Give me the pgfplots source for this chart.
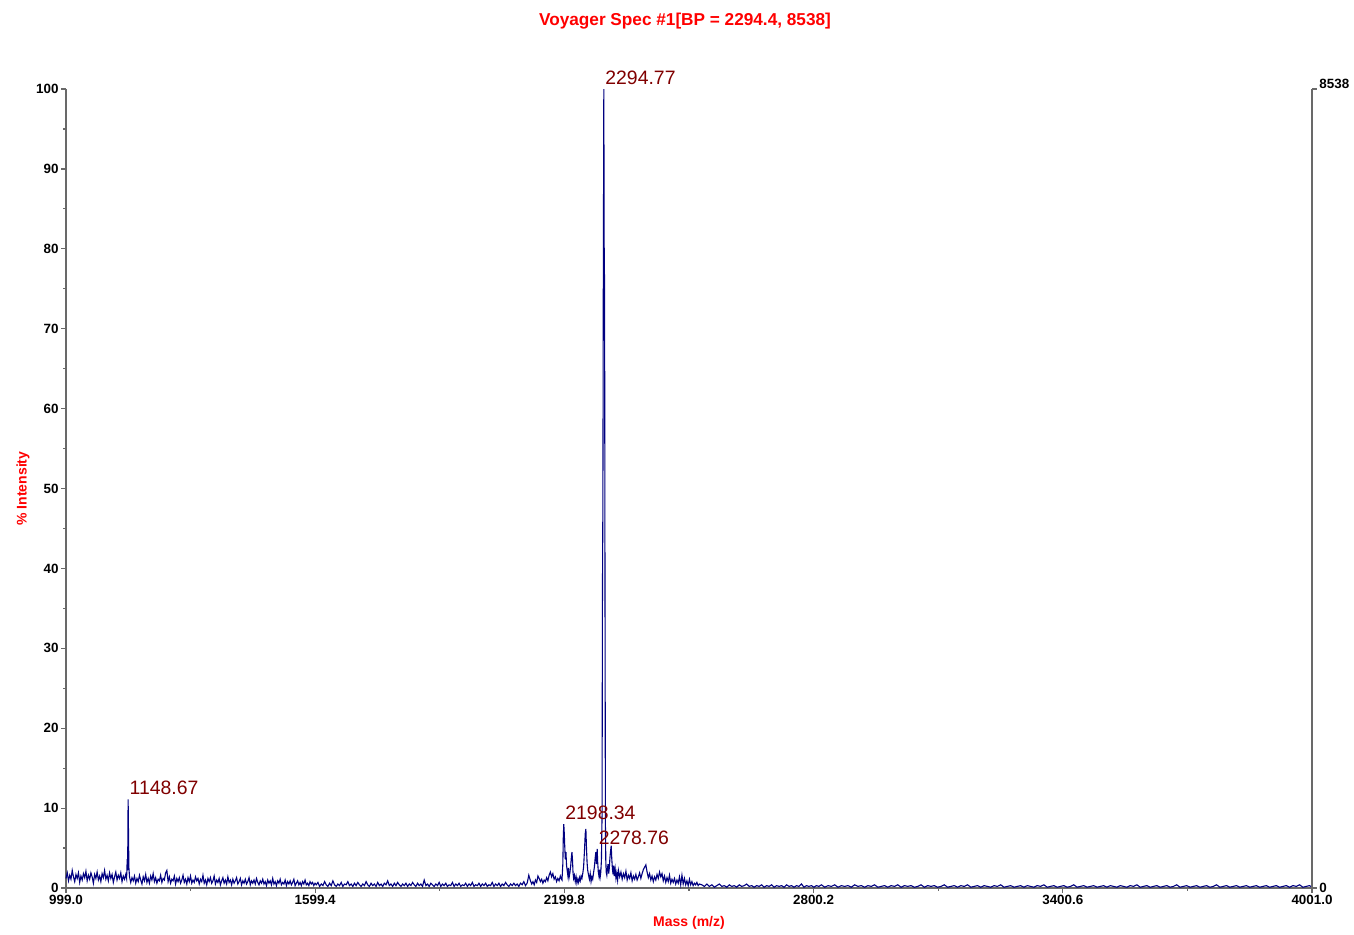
\documentclass[border=0pt]{standalone}
\usepackage{fontspec}
\setmainfont{Liberation Sans}
\usepackage{pgfplots}
\usepackage{pgfplotstable}
\pgfplotsset{compat=1.18}
\definecolor{navy}{RGB}{0,0,128}
\definecolor{peakred}{RGB}{128,0,0}
\definecolor{titlered}{RGB}{255,0,0}
\definecolor{axgray}{RGB}{105,105,105}

\pgfplotstableread[row sep=\\]{
x y\\
999 1.2\\ 1002 1.9\\ 1005 0.9\\ 1008 1.6\\ 1011 1.1\\ 1014 2.2\\ 1017 1.4\\ 1020 0.8\\ 1023 1.7\\ 1026 1.2\\
1029 1.9\\ 1032 0.7\\ 1035 1.5\\ 1038 1.0\\ 1041 1.8\\ 1044 1.3\\ 1047 2.1\\ 1050 0.9\\ 1053 1.6\\ 1056 1.1\\
1059 1.9\\ 1062 1.4\\ 1065 0.6\\ 1068 1.7\\ 1071 1.2\\ 1074 2.0\\ 1077 1.0\\ 1080 1.5\\ 1083 0.8\\ 1086 1.8\\
1089 1.3\\ 1092 2.2\\ 1095 1.1\\ 1098 1.6\\ 1101 0.9\\ 1104 1.9\\ 1107 1.2\\ 1110 1.7\\ 1113 0.7\\ 1116 1.4\\
1119 2.0\\ 1122 1.0\\ 1125 1.6\\ 1128 1.2\\ 1131 1.9\\ 1134 0.8\\ 1137 1.5\\ 1140 1.1\\ 1143 1.7\\
1145 1.2\\ 1146.5 3.6\\ 1147.5 2.2\\ 1148.67 11.1\\ 1149.6 6.8\\ 1150.5 2.6\\ 1152 1.4\\
1155 0.7\\ 1158 1.3\\ 1161 0.9\\ 1164 1.5\\ 1167 0.6\\ 1170 1.2\\ 1173 0.8\\ 1176 1.6\\ 1179 1.0\\ 1182 0.5\\
1185 1.4\\ 1188 0.9\\ 1191 1.7\\ 1194 0.7\\ 1197 1.2\\ 1200 0.6\\ 1203 1.5\\ 1206 1.0\\ 1209 1.8\\ 1212 0.8\\
1215 1.3\\ 1218 0.6\\ 1221 1.1\\ 1224 0.9\\ 1227 1.6\\ 1230 0.7\\ 1233 1.2\\ 1236 1.0\\ 1239 1.9\\ 1242 2.2\\
1245 0.8\\ 1248 1.4\\ 1251 0.6\\ 1254 1.1\\ 1257 0.9\\ 1260 1.5\\ 1263 0.5\\ 1266 1.2\\ 1269 0.8\\ 1272 1.3\\
1275 0.6\\ 1278 1.0\\ 1281 1.6\\ 1284 0.7\\ 1287 1.1\\ 1290 0.5\\ 1293 1.3\\ 1296 0.8\\ 1299 1.5\\ 1302 0.6\\
1305 1.0\\ 1308 0.7\\ 1311 1.4\\ 1314 0.9\\ 1317 1.2\\ 1320 0.5\\ 1323 1.1\\ 1326 0.8\\ 1329 1.6\\ 1332 0.6\\
1335 1.0\\ 1338 0.4\\ 1341 1.2\\ 1344 0.8\\ 1347 1.3\\ 1350 0.6\\ 1353 0.9\\ 1356 1.5\\ 1359 0.5\\ 1362 1.0\\
1365 0.7\\ 1368 1.2\\ 1371 0.4\\ 1374 0.9\\ 1377 1.3\\ 1380 0.6\\ 1383 1.0\\ 1386 0.5\\ 1389 1.4\\ 1392 0.7\\
1395 1.0\\ 1398 0.4\\ 1401 1.1\\ 1404 0.6\\ 1407 0.9\\ 1410 1.3\\ 1413 0.5\\ 1416 0.8\\ 1419 1.2\\ 1422 0.4\\
1425 0.9\\ 1428 0.6\\ 1431 1.1\\ 1434 0.5\\ 1437 0.8\\ 1440 1.3\\ 1443 0.4\\ 1446 0.9\\ 1449 0.6\\ 1452 1.0\\
1455 0.5\\ 1458 1.2\\ 1461 0.7\\ 1464 0.4\\ 1467 0.9\\ 1470 0.6\\ 1473 1.1\\ 1476 0.5\\ 1479 0.8\\ 1482 0.3\\
1485 1.0\\ 1488 0.6\\ 1491 0.9\\ 1494 0.4\\ 1497 1.2\\ 1500 0.5\\ 1503 0.8\\ 1506 0.3\\ 1509 0.9\\ 1512 0.6\\
1515 1.1\\ 1518 0.4\\ 1521 0.7\\ 1524 0.5\\ 1527 1.0\\ 1530 0.3\\ 1533 0.8\\ 1536 0.5\\ 1539 0.9\\ 1542 0.4\\
1545 0.7\\ 1548 1.1\\ 1551 0.3\\ 1554 0.6\\ 1557 0.9\\ 1560 0.4\\ 1563 0.7\\ 1566 0.3\\ 1569 0.8\\ 1572 0.5\\
1575 1.0\\ 1578 0.4\\ 1581 0.6\\ 1584 0.3\\ 1587 0.8\\ 1590 0.5\\ 1593 0.7\\ 1596 0.3\\ 1599 0.6\\
1602 0.4\\ 1606 0.7\\ 1610 0.2\\ 1614 0.5\\ 1618 0.3\\ 1622 0.8\\ 1626 0.4\\ 1630 0.2\\ 1634 0.6\\ 1638 0.3\\
1642 0.9\\ 1646 0.4\\ 1650 0.2\\ 1654 0.5\\ 1658 0.3\\ 1662 0.7\\ 1666 0.2\\ 1670 0.5\\ 1674 0.4\\ 1678 0.8\\
1682 0.3\\ 1686 0.5\\ 1690 0.2\\ 1694 0.6\\ 1698 0.3\\ 1702 0.7\\ 1706 0.4\\ 1710 0.2\\ 1714 0.5\\ 1718 0.3\\
1722 0.8\\ 1726 0.4\\ 1730 0.2\\ 1734 0.6\\ 1738 0.3\\ 1742 0.5\\ 1746 0.2\\ 1750 0.7\\ 1754 0.3\\ 1758 0.5\\
1762 0.2\\ 1766 0.6\\ 1770 0.4\\ 1774 0.9\\ 1778 0.3\\ 1782 0.5\\ 1786 0.2\\ 1790 0.6\\ 1794 0.3\\ 1798 0.7\\
1802 0.4\\ 1806 0.2\\ 1810 0.5\\ 1814 0.3\\ 1818 0.6\\ 1822 0.2\\ 1826 0.5\\ 1830 0.3\\ 1834 0.7\\ 1838 0.4\\
1842 0.2\\ 1846 0.6\\ 1850 0.3\\ 1854 0.5\\ 1858 0.2\\ 1862 1.0\\ 1866 0.3\\ 1870 0.5\\ 1874 0.2\\ 1878 0.6\\
1882 0.4\\ 1886 0.2\\ 1890 0.5\\ 1894 0.3\\ 1898 0.7\\ 1902 0.2\\ 1906 0.5\\ 1910 0.3\\ 1914 0.6\\ 1918 0.2\\
1922 0.4\\ 1926 0.3\\ 1930 0.7\\ 1934 0.2\\ 1938 0.5\\ 1942 0.3\\ 1946 0.6\\ 1950 0.2\\ 1954 0.4\\ 1958 0.3\\
1962 0.6\\ 1966 0.2\\ 1970 0.5\\ 1974 0.3\\ 1978 0.7\\ 1982 0.2\\ 1986 0.4\\ 1990 0.3\\ 1994 0.6\\ 1998 0.2\\
2002 0.5\\ 2006 0.3\\ 2010 0.6\\ 2014 0.2\\ 2018 0.4\\ 2022 0.3\\ 2026 0.7\\ 2030 0.2\\ 2034 0.5\\ 2038 0.3\\
2042 0.6\\ 2046 0.2\\ 2050 0.5\\ 2054 0.3\\ 2058 0.7\\ 2062 0.4\\ 2066 0.2\\ 2070 0.5\\ 2074 0.3\\ 2078 0.6\\
2082 0.3\\ 2086 0.5\\ 2090 0.2\\ 2094 0.6\\ 2098 0.4\\ 2102 0.8\\ 2106 0.3\\ 2110 0.6\\ 2114 1.6\\ 2118 0.9\\
2121 0.5\\ 2124 0.8\\ 2127 0.4\\ 2130 1.0\\ 2133 0.7\\ 2136 1.5\\ 2139 1.2\\ 2142 0.8\\ 2145 1.1\\ 2148 0.6\\
2151 1.0\\ 2154 0.8\\ 2157 1.3\\ 2160 0.9\\ 2163 1.6\\ 2166 2.0\\ 2169 1.4\\ 2172 1.8\\ 2175 1.1\\ 2178 1.4\\
2181 0.8\\ 2184 1.2\\ 2187 0.9\\ 2190 1.5\\ 2192 1.2\\ 2194 1.0\\
2196 3.0\\ 2197.2 6.5\\ 2198.34 8.0\\ 2199.5 6.8\\ 2200.8 5.0\\ 2202 3.6\\ 2203.5 4.5\\ 2205 2.8\\ 2206.5 2.2\\
2208 1.6\\ 2209.5 2.5\\ 2211 1.3\\ 2213 1.9\\ 2215 2.8\\ 2216.5 3.8\\ 2218 4.5\\ 2219.3 3.5\\ 2220.5 2.0\\
2222 1.2\\ 2224 1.6\\ 2226 0.8\\ 2228 1.4\\ 2230 0.6\\ 2232 1.1\\ 2234 0.7\\ 2236 1.3\\ 2238 0.9\\ 2240 1.5\\
2242 1.2\\ 2244 1.8\\ 2246 2.6\\ 2248 4.5\\ 2250 6.8\\ 2251.5 7.4\\ 2253 5.0\\ 2254.5 3.1\\ 2256 2.2\\
2258 1.6\\ 2260 1.1\\ 2262 1.8\\ 2264 0.8\\ 2266 1.4\\ 2268 1.1\\ 2270 1.9\\ 2272 2.6\\ 2274 3.8\\ 2275.5 4.5\\
2277 3.0\\ 2278.76 4.9\\ 2280 3.2\\ 2281.5 2.0\\ 2283 1.5\\ 2284.5 2.3\\ 2286 1.4\\ 2287.5 2.0\\ 2289 3.5\\
2290.5 9.0\\ 2291.5 37.3\\ 2292.5 48.0\\ 2293.5 75.0\\ 2294.77 100\\ 2295.6 80.5\\ 2296.6 75.0\\ 2297.6 37.3\\
2298.6 8.0\\ 2299.5 3.5\\ 2300.5 2.0\\ 2302 1.6\\ 2303.5 2.4\\ 2305 3.0\\ 2306.5 1.8\\ 2308 2.5\\ 2309.5 3.8\\
2311 4.6\\ 2312.5 5.3\\ 2314 3.6\\ 2315.5 2.4\\ 2317 1.7\\ 2318.5 2.8\\ 2320 1.5\\ 2322 2.4\\ 2324 1.2\\
2326 1.9\\ 2328 1.0\\
2330 2.2\\ 2333 1.4\\ 2336 2.0\\ 2339 1.1\\ 2342 1.8\\ 2345 1.3\\ 2348 2.1\\ 2351 1.0\\ 2354 1.6\\ 2357 1.2\\
2360 1.9\\ 2363 0.9\\ 2366 1.5\\ 2369 1.1\\ 2372 1.7\\ 2375 1.0\\ 2378 1.4\\ 2381 1.9\\ 2384 1.2\\ 2387 1.8\\
2390 2.3\\ 2393 2.6\\ 2396 2.9\\ 2399 2.0\\ 2402 1.3\\ 2405 1.8\\ 2408 1.0\\ 2411 1.5\\ 2414 0.8\\ 2417 1.4\\
2420 1.0\\ 2423 1.7\\ 2426 1.2\\ 2429 2.0\\ 2432 1.4\\ 2435 1.8\\ 2438 0.9\\ 2441 1.5\\ 2444 0.7\\ 2447 1.3\\
2450 0.8\\ 2453 1.6\\ 2456 0.6\\ 2459 1.1\\ 2462 0.7\\ 2465 1.2\\ 2468 0.5\\ 2471 1.0\\ 2474 0.6\\ 2477 1.4\\
2480 0.4\\ 2483 1.6\\ 2486 0.5\\ 2489 1.2\\ 2492 0.4\\ 2495 0.9\\ 2498 0.3\\ 2501 1.1\\ 2504 0.4\\ 2507 0.8\\
2510 0.3\\ 2513 0.6\\ 2516 0.4\\ 2519 0.7\\ 2522 0.3\\ 2525 0.5\\
2531 0.4\\ 2537 0.2\\ 2543 0.5\\ 2549 0.2\\ 2555 0.4\\ 2561 0.1\\ 2567 0.3\\ 2573 0.5\\ 2579 0.2\\ 2585 0.3\\
2591 0.1\\ 2597 0.4\\ 2603 0.2\\ 2609 0.3\\ 2615 0.1\\ 2621 0.4\\ 2627 0.2\\ 2633 0.3\\ 2639 0.5\\ 2645 0.2\\
2651 0.3\\ 2657 0.1\\ 2663 0.3\\ 2669 0.2\\ 2675 0.4\\ 2681 0.1\\ 2687 0.3\\ 2693 0.2\\ 2699 0.4\\ 2705 0.1\\
2711 0.3\\ 2717 0.2\\ 2723 0.3\\ 2729 0.1\\ 2735 0.4\\ 2741 0.2\\ 2747 0.3\\ 2753 0.1\\ 2759 0.3\\ 2765 0.2\\
2771 0.5\\ 2777 0.1\\ 2783 0.3\\ 2789 0.2\\ 2795 0.3\\ 2801 0.1\\ 2807 0.3\\ 2813 0.2\\ 2819 0.4\\
2827 0.1\\ 2835 0.3\\ 2843 0.2\\ 2851 0.4\\ 2859 0.1\\ 2867 0.3\\ 2875 0.2\\ 2883 0.3\\ 2891 0.1\\ 2899 0.4\\
2907 0.2\\ 2915 0.3\\ 2923 0.1\\ 2931 0.3\\ 2939 0.2\\ 2947 0.4\\ 2955 0.1\\ 2963 0.2\\ 2971 0.3\\ 2979 0.1\\
2987 0.3\\ 2995 0.2\\ 3003 0.4\\ 3011 0.1\\ 3019 0.3\\ 3027 0.2\\ 3035 0.3\\ 3043 0.1\\ 3051 0.2\\ 3059 0.4\\
3067 0.1\\ 3075 0.3\\ 3083 0.2\\ 3091 0.3\\ 3099 0.1\\ 3107 0.2\\ 3115 0.4\\ 3123 0.1\\ 3131 0.2\\ 3139 0.3\\
3147 0.1\\ 3155 0.3\\ 3163 0.2\\ 3171 0.4\\ 3179 0.1\\ 3187 0.2\\ 3195 0.3\\ 3203 0.1\\ 3211 0.3\\ 3219 0.2\\
3227 0.1\\ 3235 0.3\\ 3243 0.2\\ 3251 0.4\\ 3259 0.1\\ 3267 0.2\\ 3275 0.3\\ 3283 0.1\\ 3291 0.2\\ 3299 0.3\\
3307 0.1\\ 3315 0.3\\ 3323 0.2\\ 3331 0.1\\ 3339 0.3\\ 3347 0.2\\ 3355 0.4\\ 3363 0.1\\ 3371 0.2\\ 3379 0.3\\
3387 0.1\\ 3395 0.2\\ 3403 0.3\\ 3411 0.1\\ 3419 0.2\\ 3427 0.4\\ 3435 0.1\\ 3443 0.2\\ 3451 0.3\\ 3459 0.1\\
3467 0.2\\ 3475 0.3\\ 3483 0.1\\ 3491 0.2\\ 3499 0.3\\ 3507 0.1\\ 3515 0.3\\ 3523 0.2\\ 3531 0.1\\ 3539 0.3\\
3547 0.2\\ 3555 0.1\\ 3563 0.3\\ 3571 0.2\\ 3579 0.4\\ 3587 0.1\\ 3595 0.2\\ 3603 0.3\\ 3611 0.1\\ 3619 0.2\\
3627 0.3\\ 3635 0.1\\ 3643 0.2\\ 3651 0.3\\ 3659 0.1\\ 3667 0.2\\ 3675 0.4\\ 3683 0.1\\ 3691 0.2\\ 3699 0.3\\
3707 0.1\\ 3715 0.2\\ 3723 0.3\\ 3731 0.1\\ 3739 0.2\\ 3747 0.3\\ 3755 0.1\\ 3763 0.2\\ 3771 0.4\\ 3779 0.1\\
3787 0.2\\ 3795 0.3\\ 3803 0.1\\ 3811 0.2\\ 3819 0.3\\ 3827 0.1\\ 3835 0.2\\ 3843 0.3\\ 3851 0.1\\ 3859 0.2\\
3867 0.3\\ 3875 0.1\\ 3883 0.2\\ 3891 0.3\\ 3899 0.1\\ 3907 0.2\\ 3915 0.3\\ 3923 0.1\\ 3931 0.2\\ 3939 0.3\\
3947 0.1\\ 3955 0.3\\ 3963 0.2\\ 3971 0.4\\ 3979 0.1\\ 3987 0.2\\ 3995 0.3\\ 4001 0.1\\
}\spec

\begin{document}
\begin{tikzpicture}
\useasboundingbox (-33pt,-23pt) rectangle (644pt,444pt);
\begin{axis}[
  at={(0,0)}, anchor=south west,
  scale only axis, width=623pt, height=399.5pt,
  xmin=999, xmax=4001, ymin=0, ymax=100,
  axis x line*=bottom, axis y line*=left,
  axis line style={-, draw=axgray, line width=0.6pt},
  clip=false,
  tick align=outside,
  major tick length=2.3pt, minor tick length=1.4pt,
  every tick/.style={draw=axgray, line width=0.6pt},
  xtick={999,1599.4,2199.8,2800.2,3400.6,4001},
  xticklabels={999.0,1599.4,2199.8,2800.2,3400.6,4001.0},
  minor xtick={1299.2,1899.6,2500,3100.4,3700.8},
  ytick={0,10,20,30,40,50,60,70,80,90,100},
  yticklabels={0,10,20,30,40,50,60,70,80,90,100},
  minor ytick={5,15,25,35,45,55,65,75,85,95},
  ticklabel style={font=\bfseries\fontsize{6.7}{8}\selectfont, text=black},
  yticklabel style={inner sep=1.2pt},
  xticklabel style={inner sep=1.2pt},
  every axis title shift=0pt,
  title={Voyager Spec \#1[BP = 2294.4, 8538]},
  title style={at={(axis description cs:0.4968,1.0851)}, anchor=center, yshift=0pt,
    font=\bfseries\fontsize{8.6}{10}\selectfont, text=titlered},
  xlabel={Mass (m/z)},
  xlabel style={at={(axis description cs:0.5,-0.0438)}, anchor=center, yshift=0pt,
    font=\bfseries\fontsize{7}{8}\selectfont, text=titlered},
  ylabel={\% Intensity},
  ylabel style={at={(axis description cs:-0.0345,0.5)}, anchor=center,
    font=\bfseries\fontsize{7}{8}\selectfont, text=titlered},
]
\addplot[navy, line width=0.55pt, mark=none] table[x=x, y=y] {\spec};
\node[anchor=south west, inner sep=0.6pt, yshift=1.3pt, text=peakred, font=\fontsize{9.7}{11}\selectfont] at (axis cs:2294.77,100) {2294.77};
\node[anchor=south west, inner sep=0.6pt, yshift=1.3pt, text=peakred, font=\fontsize{9.7}{11}\selectfont] at (axis cs:1148.67,11.1) {1148.67};
\node[anchor=south west, inner sep=0.6pt, yshift=1.3pt, text=peakred, font=\fontsize{9.7}{11}\selectfont] at (axis cs:2198.34,8.0) {2198.34};
\node[anchor=south west, inner sep=0.6pt, yshift=1.3pt, text=peakred, font=\fontsize{9.7}{11}\selectfont] at (axis cs:2278.76,4.9) {2278.76};
\end{axis}
\begin{axis}[
  at={(0,0)}, anchor=south west,
  scale only axis, width=623pt, height=399.5pt,
  xmin=999, xmax=4001, ymin=0, ymax=8538,
  axis x line=none, axis y line*=right,
  axis line style={-, draw=axgray, line width=0.6pt},
  tick align=outside, major tick length=2.3pt,
  every tick/.style={draw=axgray, line width=0.6pt},
  ytick={0,8538}, yticklabels={0,{\raisebox{5pt}{8538}}},
  yticklabel style={font=\bfseries\fontsize{6.7}{8}\selectfont, text=black, inner sep=1.2pt},
]
\end{axis}
\end{tikzpicture}
\end{document}
